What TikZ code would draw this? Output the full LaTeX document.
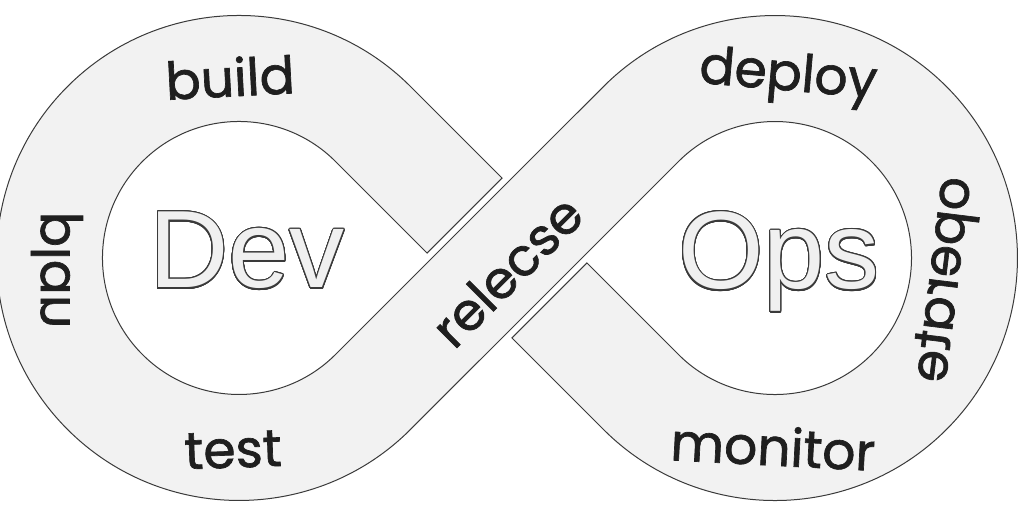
\documentclass[tikz,border=0pt]{standalone}
\usepackage{fontspec}
\setmainfont{Poppins}
\newfontfamily\stagefont{Poppins}[FakeBold=1.3]
\newfontfamily\coresans{Liberation Sans}
\usepackage{contour}
\contourlength{0.55pt}
\contournumber{32}
\definecolor{bandgray}{HTML}{F2F2F2}
\definecolor{linegray}{HTML}{3A3A3A}
\definecolor{corefill}{HTML}{F0F0F0}

\begin{document}
\begin{tikzpicture}[x=0.5pt,y=0.5pt,
  band/.style={fill=bandgray,draw=linegray,line width=0.5pt},
  stage/.style={font=\stagefont\fontsize{26}{30}\selectfont,text=black!88,inner sep=0pt},
  core/.style={font=\coresans\fontsize{55}{60}\selectfont,inner sep=0pt,anchor=base}]
  \useasboundingbox (-507,-256) rectangle (517,258);
  % one band, cut where it runs under the release strip
  \draw[band] (-4.9,79.9) -- (-96.5,171.5)
    arc[start angle=45,end angle=315,radius=242.5] -- (171.5,96.5)
    arc[start angle=135,end angle=-135,radius=136.5] -- (79.9,-4.9)
    -- (4.9,-79.9) -- (96.5,-171.5)
    arc[start angle=-135,end angle=135,radius=242.5] -- (-171.5,-96.5)
    arc[start angle=-45,end angle=-315,radius=136.5] -- (-79.9,4.9)
    -- cycle;
  % centre words
  \node[core] (dev) at (-260,-30) {{\color{corefill}\contour{linegray}{Dev}}};
  \node[core] (ops) at (272,-31) {{\color{corefill}\contour{linegray}{Ops}}};
  % stages round the loop
  \node[stage,rotate=3] (build) at (-277,181) {build};
  \node[stage,rotate=-5] (deploy) at (281,180) {deploy};
  \node[stage,rotate=2] (test) at (-274,-192) {test};
  \node[stage,rotate=-3] (monitor) at (266,-188) {monitor};
  \node[stage,rotate=45] (release) at (0,-13) {relecse};
  \node[stage,rotate=90] (plan) at (-450,-12) {\reflectbox{plan}};
  \node[stage,rotate=83] (operate) at (440,-22) {\reflectbox{operate}};
\end{tikzpicture}
\end{document}
